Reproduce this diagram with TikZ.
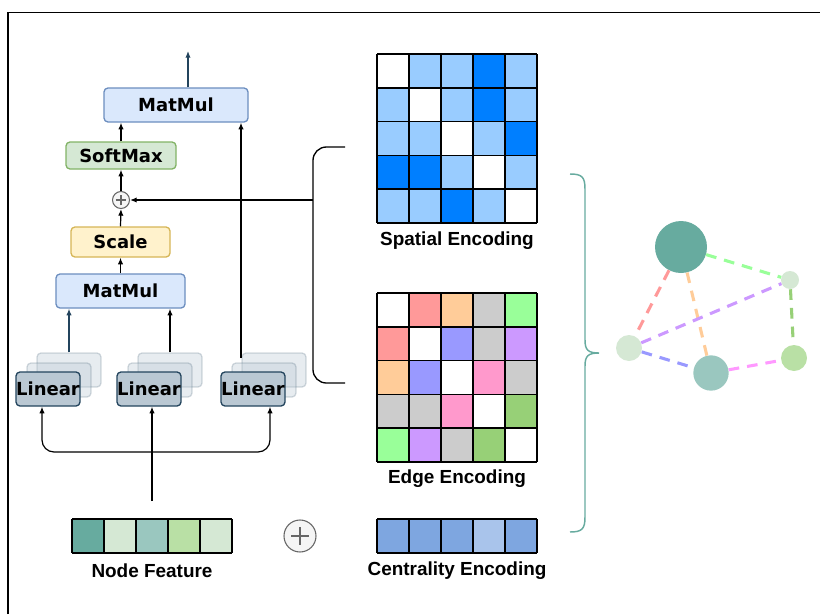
\documentclass[tikz,border=0pt]{standalone}
\usepackage{fontspec}
\setmainfont{Liberation Sans}
\newfontfamily\opfont{DejaVu Sans}
\usetikzlibrary{arrows.meta}

% box colours
\definecolor{mmfill}{HTML}{DAE8FC}\definecolor{mmline}{HTML}{6C8EBF}
\definecolor{smfill}{HTML}{D5E8D4}\definecolor{smline}{HTML}{82B366}
\definecolor{scfill}{HTML}{FFF2CC}\definecolor{scline}{HTML}{D6B656}
\definecolor{lnfill}{HTML}{BAC8D3}\definecolor{dkblue}{HTML}{23445D}
\definecolor{pfill}{HTML}{F5F5F5}\definecolor{pline}{HTML}{666666}
% spatial grid
\definecolor{sW}{HTML}{FFFFFF}\definecolor{sL}{HTML}{99CCFF}\definecolor{sD}{HTML}{007FFF}
% edge grid
\definecolor{eW}{HTML}{FFFFFF}\definecolor{eR}{HTML}{FF9999}\definecolor{eO}{HTML}{FFCC99}
\definecolor{eG}{HTML}{CCCCCC}\definecolor{eLg}{HTML}{99FF99}\definecolor{eB}{HTML}{9999FF}
\definecolor{eP}{HTML}{CC99FF}\definecolor{eK}{HTML}{FF99CC}\definecolor{eDg}{HTML}{97D077}
\definecolor{eM}{HTML}{FF99FF}
% node feature / centrality
\definecolor{nA}{HTML}{67AB9F}\definecolor{nB}{HTML}{D5E8D4}\definecolor{nC}{HTML}{9AC7BF}
\definecolor{nD}{HTML}{B9E0A5}\definecolor{cA}{HTML}{7EA6E0}\definecolor{cB}{HTML}{A9C4EB}

\begin{document}
\begin{tikzpicture}[x=0.75pt,y=-0.75pt,
  opbox/.style={draw,rounded corners=3pt,line width=1pt,inner sep=0pt,
    font=\opfont\bfseries\fontsize{13.5}{16}\selectfont},
  linfront/.style={opbox,fill=lnfill,draw=dkblue,minimum width=48pt,minimum height=25.5pt},
  linback/.style={draw=dkblue,draw opacity=0.2,fill=lnfill,fill opacity=0.35,
    rounded corners=3pt,line width=1pt,minimum width=48pt,minimum height=25.5pt},
  arr/.style={-{Latex[length=5pt,width=4pt]},line width=0.9pt},
  arrboth/.style={{Latex[length=5pt,width=4pt]}-{Latex[length=5pt,width=4pt]},line width=0.9pt},
  plusc/.style={circle,draw=pline,fill=pfill,line width=0.8pt,inner sep=0pt},
  lbl/.style={font=\bfseries\fontsize{14.2}{17}\selectfont,inner sep=0pt},
  gnode/.style={circle,inner sep=0pt,draw=none},
  gedge/.style={line width=2.3pt,dash pattern=on 8pt off 6pt},
]
\useasboundingbox (0,0) rectangle (820,614);

% frame
\draw[line width=1.2pt] (8,614) -- (8,12.5) -- (820,12.5);

% attention block
\node[opbox,fill=mmfill,draw=mmline,minimum width=108pt,minimum height=25.5pt] (mm2) at (176,105) {MatMul};
\node[opbox,fill=smfill,draw=smline,minimum width=82.5pt,minimum height=20.25pt] (sm) at (121,155.5) {SoftMax};
\node[plusc,minimum size=12.75pt] (add) at (121,200) {};
\draw[pline,line width=0.8pt] ([xshift=-4pt]add.center) -- ([xshift=4pt]add.center)
  ([yshift=-4pt]add.center) -- ([yshift=4pt]add.center);
\node[opbox,fill=scfill,draw=scline,minimum width=74.25pt,minimum height=22.5pt] (sc) at (120.5,242) {Scale};
\node[opbox,fill=mmfill,draw=mmline,minimum width=96.75pt,minimum height=25.5pt] (mm1) at (120.5,291) {MatMul};

% linear projection stacks
\foreach \i/\cx in {1/48,2/149,3/253}{
  \node[linback] (lb\i) at (\cx+21,370) {};
  \node[linback] (la\i) at (\cx+11,380) {};
  \node[linfront] (lin\i) at (\cx,389) {Linear};
}

% data flow
\draw[arr,draw=dkblue] (lb1.north) -- (lb1.north |- mm1.south);
\draw[arr] (lb2.north) -- (lb2.north |- mm1.south);
\coordinate (vtap) at (241,358);
\draw[arr] (vtap) -- (vtap |- mm2.south);
\draw[arr] (mm1.north) -- (sc.south);
\draw[arr] (sc.north) -- (add.south);
\draw[arr] (add.north) -- (sm.south);
\draw[arr] (sm.north) -- (sm.north |- mm2.south);
\coordinate (out) at (188,51);
\draw[arr,draw=dkblue] (out |- mm2.north) -- (out);

% bracket joining the two encodings
\coordinate (brt) at (345,147);
\coordinate (brb) at (345,383);
\coordinate (brx) at (313,200);
\draw[line width=1pt,rounded corners=10pt] (brt) -- (313,147) -- (313,383) -- (brb);
\draw[arr] (brx) -- (add.east);

% spatial encoding grid
\foreach \r/\cols in {0/{sW,sL,sL,sD,sL},1/{sL,sW,sL,sD,sL},2/{sL,sL,sW,sL,sD},3/{sD,sD,sL,sW,sL},4/{sL,sL,sD,sL,sW}}{
  \foreach \c [count=\j from 0] in \cols {
    \fill[\c] (377+32*\j,54+33.8*\r) rectangle ++(32,33.8);
  }
}
\foreach \k in {0,...,5}{
  \draw[line width=1.1pt] (377+32*\k,54) -- (377+32*\k,223);
  \draw[line width=1.1pt] (377,54+33.8*\k) -- (537,54+33.8*\k);
}
\node[lbl] (splbl) at (457,241) {Spatial Encoding};

% edge encoding grid
\foreach \r/\cols in {0/{eW,eR,eO,eG,eLg},1/{eR,eW,eB,eG,eP},2/{eO,eB,eW,eK,eG},3/{eG,eG,eK,eW,eDg},4/{eLg,eP,eG,eDg,eW}}{
  \foreach \c [count=\j from 0] in \cols {
    \fill[\c] (377+32*\j,293+33.8*\r) rectangle ++(32,33.8);
  }
}
\foreach \k in {0,...,5}{
  \draw[line width=1.1pt] (377+32*\k,293) -- (377+32*\k,462);
  \draw[line width=1.1pt] (377,293+33.8*\k) -- (537,293+33.8*\k);
}
\node[lbl] (edlbl) at (457,479) {Edge Encoding};

% node feature bar
\foreach \c [count=\j from 0] in {nA,nB,nC,nD,nB}{
  \fill[\c] (72+32*\j,519) rectangle ++(32,34);
}
\foreach \k in {0,...,5}{\draw[line width=1.1pt] (72+32*\k,519) -- (72+32*\k,553);}
\draw[line width=1.1pt] (72,519) -- (232,519) (72,553) -- (232,553);
\node[lbl] (nflbl) at (152,571) {Node Feature};

% centrality encoding bar
\foreach \c [count=\j from 0] in {cA,cA,cA,cB,cA}{
  \fill[\c] (377+32*\j,519) rectangle ++(32,34);
}
\foreach \k in {0,...,5}{\draw[line width=1.1pt] (377+32*\k,519) -- (377+32*\k,553);}
\draw[line width=1.1pt] (377,519) -- (537,519) (377,553) -- (537,553);
\node[lbl] (celbl) at (457,571) {Centrality Encoding};

% sum of the two inputs
\node[plusc,minimum size=24pt] (sum) at (300,536) {};
\draw[pline,line width=0.8pt] ([xshift=-6.5pt]sum.center) -- ([xshift=6.5pt]sum.center)
  ([yshift=-6.5pt]sum.center) -- ([yshift=6.5pt]sum.center);

% input fan-out to the linear layers
\coordinate (nftop) at (152,501);
\draw[arr] (nftop) -- (nftop |- lin2.south);
\coordinate (b1) at (42,452);
\coordinate (b2) at (270,452);
\draw[arrboth,rounded corners=9pt] (b1 |- lin1.south) -- (b1) -- (b2) -- (b2 |- lin3.south);

% curly brace
\draw[nA,line width=1.1pt] (570,174) .. controls (582,174) and (585,177) .. (585,189)
  -- (585,340) .. controls (585,350) and (588,353) .. (599,353)
  .. controls (588,353) and (585,356) .. (585,366)
  -- (585,517) .. controls (585,529) and (582,532) .. (570,532);

% graph
\node[gnode,fill=nA,minimum size=39pt] (g1) at (681,247) {};
\node[gnode,fill=nB,minimum size=13.5pt] (g2) at (790,280) {};
\node[gnode,fill=nB,minimum size=19.5pt] (g3) at (629,348) {};
\node[gnode,fill=nC,minimum size=26.5pt] (g4) at (711,373) {};
\node[gnode,fill=nD,minimum size=19.5pt] (g5) at (794,358) {};
\draw[gedge,eR] (g1) -- (g3);
\draw[gedge,eO] (g1) -- (g4);
\draw[gedge,eLg] (g1) -- (g2);
\draw[gedge,eP] (g3) -- (g2);
\draw[gedge,eB] (g3) -- (g4);
\draw[gedge,eM] (g4) -- (g5);
\draw[gedge,eDg] (g2) -- (g5);
\end{tikzpicture}
\end{document}
